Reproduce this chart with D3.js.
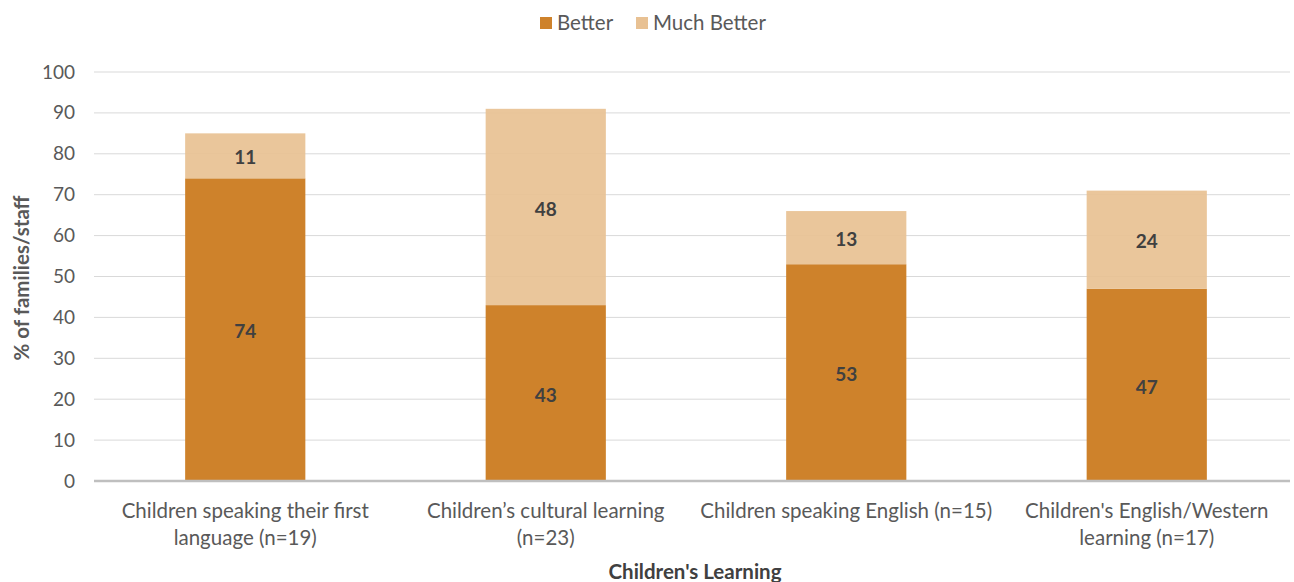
<!DOCTYPE html>
<html>
<head>
<meta charset="utf-8">
<script src="https://cdn.jsdelivr.net/npm/d3@7"></script>
<style>
  body { margin: 0; background: #fff; }
  svg { display: block; font-family: Lato, "Open Sans", sans-serif; }
</style>
</head>
<body>
<svg id="chart" width="1294" height="582"></svg>
<script>
// Categories, split into display lines
const categories = [
  ["Children speaking their first", "language (n=19)"],
  ["Children\u2019s cultural learning", "(n=23)"],
  ["Children speaking English (n=15)"],
  ["Children's English/Western", "learning (n=17)"]
];
const better = [74, 43, 53, 47];
const muchBetter = [11, 48, 13, 24];
const yTicks = [0, 10, 20, 30, 40, 50, 60, 70, 80, 90, 100];
const seriesNames = ["Better", "Much Better"];
const colors = ["#CE822B", "#E8C193"];

const svg = d3.select("#chart");
const ids = d3.range(categories.length);

const x = d3.scaleBand().domain(ids).range([95, 1297]).paddingInner(0.6).paddingOuter(0.3);
const y = d3.scaleLinear().domain([0, 100]).range([481, 72]);

// Gridlines
svg.append("g").selectAll("line").data(yTicks.filter(d => d > 0)).join("line")
  .attr("x1", 94).attr("x2", 1290)
  .attr("y1", d => y(d)).attr("y2", d => y(d))
  .attr("stroke", "#D9D9D9").attr("stroke-width", 1);

// Y tick labels
const yAxis = d3.axisLeft(y).tickValues(yTicks).tickSize(0).tickPadding(0);
const gy = svg.append("g").attr("transform", "translate(75,0)").call(yAxis);
gy.select(".domain").remove();
gy.selectAll("text").attr("fill", "#595959").style("font-size", "19px")
  .style("font-family", "Lato, 'Open Sans', sans-serif");

// Stacked bars
const stackData = ids.map(i => ({ i, a: better[i], b: muchBetter[i] }));
const stack = d3.stack().keys(["a", "b"])(stackData);

svg.append("g").selectAll("g").data(stack).join("g")
  .attr("fill", (d, k) => colors[k])
  .attr("fill-opacity", (d, k) => k === 1 ? 0.92 : 1)
  .selectAll("rect").data(d => d).join("rect")
  .attr("x", d => x(d.data.i))
  .attr("width", x.bandwidth())
  .attr("y", d => y(d[1]))
  .attr("height", d => y(d[0]) - y(d[1]));

// Value labels
svg.append("g").selectAll("g").data(stack).join("g")
  .selectAll("text").data(d => d).join("text")
  .attr("x", d => x(d.data.i) + x.bandwidth() / 2)
  .attr("y", d => (y(d[0]) + y(d[1])) / 2 + 2)
  .attr("dy", "0.35em")
  .attr("text-anchor", "middle")
  .attr("fill", "#404040")
  .style("font-size", "19px").style("font-weight", "bold")
  .text(d => d[1] - d[0]);

// Baseline
svg.append("line").attr("x1", 94).attr("x2", 1290)
  .attr("y1", y(0)).attr("y2", y(0))
  .attr("stroke", "#BFBFBF").attr("stroke-width", 2.5);

// Category labels
const cat = svg.append("g").selectAll("text").data(ids).join("text")
  .attr("x", i => x(i) + x.bandwidth() / 2)
  .attr("y", 511)
  .attr("text-anchor", "middle")
  .attr("fill", "#595959")
  .style("font-size", "20.5px");
cat.selectAll("tspan").data(i => categories[i]).join("tspan")
  .attr("x", function() { return this.parentNode.getAttribute("x"); })
  .attr("dy", (d, k) => k === 0 ? "0.35em" : "27px")
  .text(d => d);

// Axis titles
svg.append("text")
  .attr("transform", "translate(22,278) rotate(-90)")
  .attr("text-anchor", "middle").attr("dy", "0.35em")
  .attr("fill", "#595959").style("font-size", "20.5px").style("font-weight", "bold")
  .text("% of families/staff");

svg.append("text")
  .attr("x", 695).attr("y", 572).attr("dy", "0.35em")
  .attr("text-anchor", "middle")
  .attr("fill", "#404040").style("font-size", "20.5px").style("font-weight", "bold")
  .text("Children's Learning");

// Legend
const legend = svg.append("g");
const legendX = [540, 636];
seriesNames.forEach((name, k) => {
  legend.append("rect").attr("x", legendX[k]).attr("y", 17)
    .attr("width", 12).attr("height", 12).attr("fill", colors[k]);
  legend.append("text").attr("x", legendX[k] + 17).attr("y", 23).attr("dy", "0.35em")
    .attr("fill", "#595959").style("font-size", "20.5px").text(name);
});
</script>
</body>
</html>
